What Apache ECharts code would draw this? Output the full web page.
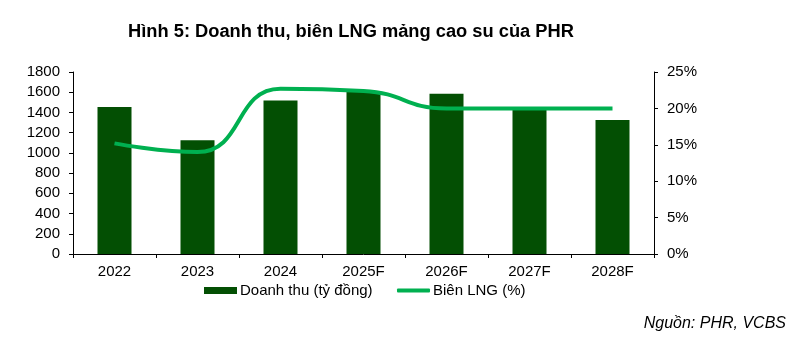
<!DOCTYPE html>
<html>
<head>
<meta charset="utf-8">
<script src="https://cdn.jsdelivr.net/npm/echarts@6/dist/echarts.min.js"></script>
<style>
html,body{margin:0;padding:0;background:#fff;}
#chart{width:787px;height:340px;}
</style>
</head>
<body>
<div id="chart"></div>
<script>
const categories = ['2022','2023','2024','2025F','2026F','2027F','2028F'];
const revenue = [1455, 1125, 1517, 1612, 1586, 1440, 1325];
const margin = [15.2, 14.0, 22.7, 22.4, 20.0, 20.0, 20.0];
const leftTicks = {min: 0, max: 1800, interval: 200};
const rightTicks = {min: 0, max: 25, interval: 5};
const titleText = 'Hình 5: Doanh thu, biên LNG mảng cao su của PHR';
const sourceText = 'Nguồn: PHR, VCBS';
const seriesNames = ['Doanh thu (tỷ đồng)', 'Biên LNG (%)'];

const FONT = '"Liberation Sans", Arial, sans-serif';
const chart = echarts.init(document.getElementById('chart'), null, {renderer: 'canvas'});
chart.setOption({
  animation: false,
  backgroundColor: '#ffffff',
  textStyle: {fontFamily: FONT},
  title: [
    {text: titleText, left: 351, top: 23, textAlign: 'center', padding: 0,
     textStyle: {fontFamily: FONT, fontSize: 18.3, fontWeight: 'bold', color: '#000'}},
    {text: sourceText, right: 1, top: 316, padding: 0,
     textStyle: {fontFamily: FONT, fontSize: 16, fontStyle: 'italic', fontWeight: 'normal', color: '#000'}}
  ],
  legend: [
    {data: [seriesNames[0]], left: 204, top: 283, padding: 0, itemWidth: 33, itemHeight: 7, icon: 'rect',
     textStyle: {fontFamily: FONT, fontSize: 15, color: '#000', padding: [0, 0, 0, -2]}},
    {data: [seriesNames[1]], left: 397, top: 283, padding: 0, itemWidth: 33, itemHeight: 4, icon: 'roundRect',
     textStyle: {fontFamily: FONT, fontSize: 15, color: '#000', padding: [0, 0, 0, -2]}}
  ],
  grid: {left: 73, right: 133, top: 72, bottom: 86},
  xAxis: {
    type: 'category', data: categories,
    axisLine: {lineStyle: {color: '#000', width: 1}},
    axisTick: {show: true, alignWithLabel: false, length: 4, lineStyle: {color: '#000'}},
    axisLabel: {color: '#000', fontSize: 15, fontFamily: FONT, margin: 10}
  },
  yAxis: [
    {type: 'value', min: leftTicks.min, max: leftTicks.max, interval: leftTicks.interval,
     axisLine: {show: true, lineStyle: {color: '#000'}},
     axisTick: {show: true, length: 4, lineStyle: {color: '#000'}},
     splitLine: {show: false},
     axisLabel: {color: '#000', fontSize: 15, fontFamily: FONT, margin: 13, formatter: v => String(v)}},
    {type: 'value', min: rightTicks.min, max: rightTicks.max, interval: rightTicks.interval, position: 'right',
     axisLine: {show: true, lineStyle: {color: '#000'}},
     axisTick: {show: true, length: 4, lineStyle: {color: '#000'}},
     splitLine: {show: false},
     axisLabel: {color: '#000', fontSize: 15, fontFamily: FONT, margin: 13, formatter: '{value}%'}}
  ],
  series: [
    {name: seriesNames[0], type: 'bar', data: revenue, barWidth: 34, yAxisIndex: 0,
     itemStyle: {color: '#034F03'}},
    {name: seriesNames[1], type: 'line', data: margin, yAxisIndex: 1, smooth: 0.5,
     symbol: 'none', lineStyle: {color: '#00B050', width: 4}, itemStyle: {color: '#00B050'}}
  ]
});
</script>
</body>
</html>
